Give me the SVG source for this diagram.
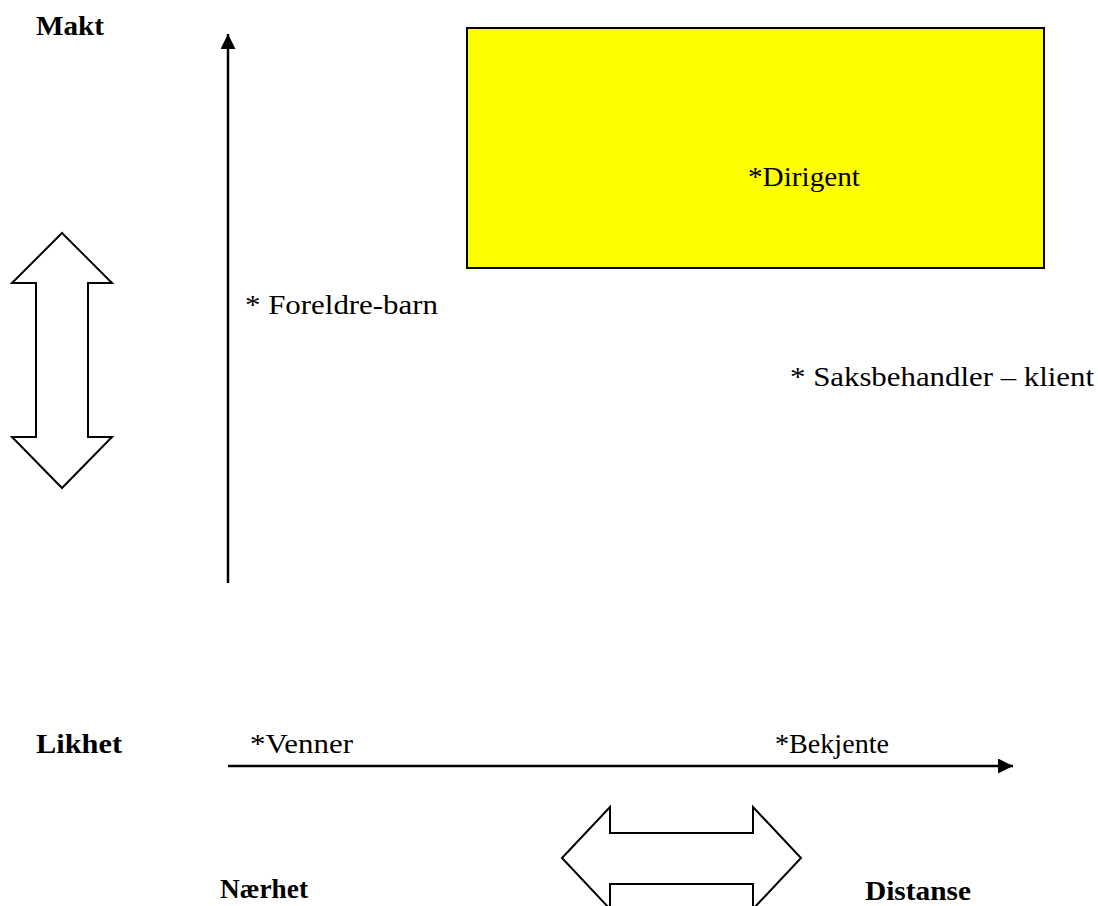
<svg xmlns="http://www.w3.org/2000/svg" width="1098" height="906" viewBox="0 0 1098 906">
<style>
text{font-family:"Liberation Serif","Times New Roman",serif;font-size:27px;fill:#000}
.b{font-weight:bold}
.ax{stroke:#000;stroke-width:2.5;fill:none}
.dbl{fill:#fff;stroke:#000;stroke-width:2}
</style>
<defs>
<marker id="ah" viewBox="0 0 10 10" refX="10" refY="5" markerWidth="6" markerHeight="6" markerUnits="strokeWidth" orient="auto">
<path d="M0,0 L10,5 L0,10 Z" fill="#000"/>
</marker>
</defs>
<rect width="1098" height="906" fill="#fff"/>
<g id="connectors">
<line class="ax" x1="228" y1="583" x2="228" y2="34" marker-end="url(#ah)"/>
<line class="ax" x1="228" y1="766" x2="1013" y2="766" marker-end="url(#ah)"/>
</g>
<g id="dirigent">
<rect x="467" y="28" width="577" height="240" fill="#ffff00" stroke="#000" stroke-width="2"/>
<text x="748" y="186" textLength="112" lengthAdjust="spacingAndGlyphs">*Dirigent</text>
</g>
<g id="makt"><text class="b" x="36" y="35" textLength="68" lengthAdjust="spacingAndGlyphs">Makt</text></g>
<g id="vdouble"><polygon class="dbl" points="62,233 112,283 88,283 88,437 112,437 62,488 12,437 36,437 36,283 12,283"/></g>
<g id="hdouble"><polygon class="dbl" points="562,858 610,807 610,833 753,833 753,807 801,858 753,909 753,884 610,884 610,909"/></g>
<g id="foreldre"><text x="245" y="314" textLength="193" lengthAdjust="spacingAndGlyphs">* Foreldre-barn</text></g>
<g id="saks"><text x="790" y="386" textLength="304" lengthAdjust="spacingAndGlyphs">* Saksbehandler – klient</text></g>
<g id="likhet"><text class="b" x="36" y="753" textLength="86" lengthAdjust="spacingAndGlyphs">Likhet</text></g>
<g id="venner"><text x="250" y="753" textLength="103" lengthAdjust="spacingAndGlyphs">*Venner</text></g>
<g id="bekjente"><text x="775" y="753" textLength="114" lengthAdjust="spacingAndGlyphs">*Bekjente</text></g>
<g id="naerhet"><text class="b" x="220" y="898" textLength="88" lengthAdjust="spacingAndGlyphs">Nærhet</text></g>
<g id="distanse"><text class="b" x="865" y="900" textLength="106" lengthAdjust="spacingAndGlyphs">Distanse</text></g>
</svg>
